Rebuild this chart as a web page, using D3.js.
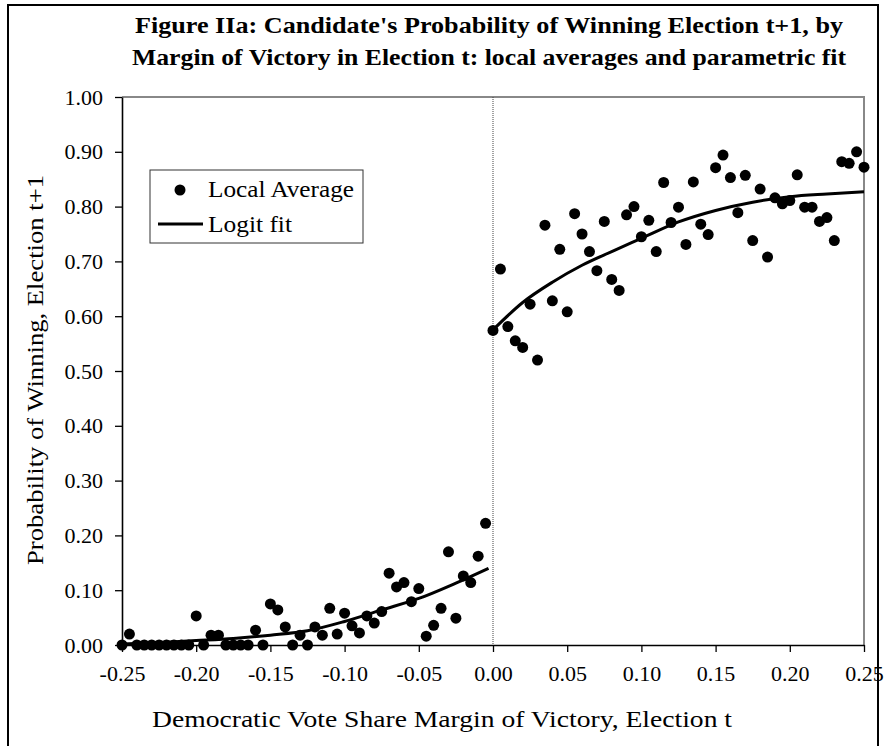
<!DOCTYPE html>
<html>
<head>
<meta charset="utf-8">
<script src="https://cdn.jsdelivr.net/npm/d3@7"></script>
<style>
  body { margin: 0; background: #fff; }
  text { font-family: "Liberation Serif", "Times New Roman", serif; fill: #000; }
</style>
</head>
<body>
<svg id="chart"></svg>
<script>
const width = 885;
const height = 746;
const margin = {top: 97, right: 21, bottom: 101, left: 122};

// local averages, left of the cutoff
const leftX = [-0.25, -0.245, -0.24, -0.235, -0.23, -0.225, -0.22, -0.215, -0.21, -0.205,
  -0.2, -0.195, -0.19, -0.185, -0.18, -0.175, -0.17, -0.165, -0.16, -0.155,
  -0.15, -0.145, -0.14, -0.135, -0.13, -0.125, -0.12, -0.115, -0.11, -0.105,
  -0.1, -0.095, -0.09, -0.085, -0.08, -0.075, -0.07, -0.065, -0.06, -0.055,
  -0.05, -0.045, -0.04, -0.035, -0.03, -0.025, -0.02, -0.015, -0.01, -0.005];
const leftY = [0, 0.02, 0, 0, 0, 0, 0, 0, 0, 0,
  0.053, 0, 0.018, 0.018, 0, 0, 0, 0, 0.027, 0,
  0.075, 0.064, 0.033, 0, 0.018, 0, 0.033, 0.018, 0.067, 0.02,
  0.058, 0.035, 0.022, 0.053, 0.04, 0.061, 0.131, 0.106, 0.114, 0.079,
  0.103, 0.016, 0.036, 0.067, 0.17, 0.049, 0.126, 0.114, 0.162, 0.222];

// local averages, right of the cutoff
const rightX = [0, 0.005, 0.01, 0.015, 0.02, 0.025, 0.03, 0.035, 0.04, 0.045,
  0.05, 0.055, 0.06, 0.065, 0.07, 0.075, 0.08, 0.085, 0.09, 0.095,
  0.1, 0.105, 0.11, 0.115, 0.12, 0.125, 0.13, 0.135, 0.14, 0.145,
  0.15, 0.155, 0.16, 0.165, 0.17, 0.175, 0.18, 0.185, 0.19, 0.195,
  0.2, 0.205, 0.21, 0.215, 0.22, 0.225, 0.23, 0.235, 0.24, 0.245, 0.25];
const rightY = [0.574, 0.686, 0.581, 0.555, 0.543, 0.622, 0.52, 0.766, 0.628, 0.722,
  0.608, 0.787, 0.75, 0.718, 0.683, 0.773, 0.667, 0.647, 0.785, 0.8,
  0.745, 0.775, 0.718, 0.844, 0.771, 0.799, 0.731, 0.845, 0.768, 0.749,
  0.871, 0.894, 0.853, 0.789, 0.857, 0.738, 0.832, 0.708, 0.816, 0.805,
  0.811, 0.858, 0.799, 0.799, 0.773, 0.78, 0.738, 0.882, 0.879, 0.9, 0.872];

// logit fit
const fitLeftX = [-0.25, -0.22, -0.2, -0.175, -0.15, -0.125, -0.1, -0.075, -0.05, -0.025, -0.003];
const fitLeftY = [0.002, 0.005, 0.008, 0.012, 0.018, 0.026, 0.043, 0.064, 0.085, 0.113, 0.14];
const fitRightX = [0, 0.02, 0.04, 0.06, 0.08, 0.1, 0.125, 0.15, 0.175, 0.2, 0.225, 0.25];
const fitRightY = [0.575, 0.625, 0.662, 0.693, 0.718, 0.742, 0.772, 0.793, 0.808, 0.818, 0.823, 0.827];

const xTicks = [-0.25, -0.2, -0.15, -0.1, -0.05, 0, 0.05, 0.1, 0.15, 0.2, 0.25];
const yTicks = [0, 0.1, 0.2, 0.3, 0.4, 0.5, 0.6, 0.7, 0.8, 0.9, 1];

const svg = d3.select("#chart").attr("width", width).attr("height", height);

const x = d3.scaleLinear().domain([-0.25, 0.25]).range([margin.left, width - margin.right]);
const y = d3.scaleLinear().domain([0, 1]).range([height - margin.bottom, margin.top]);

// outer frame
svg.append("rect")
  .attr("x", 8).attr("y", 5)
  .attr("width", 870).attr("height", 760)
  .attr("fill", "none")
  .attr("stroke", "#000")
  .attr("stroke-width", 2);

// title
const titleLines = [
  "Figure IIa: Candidate's Probability of Winning Election t+1, by",
  "Margin of Victory in Election t: local averages and parametric fit"
];
svg.selectAll(".title")
  .data(titleLines)
  .enter()
  .append("text")
  .attr("x", 489)
  .attr("y", (d, i) => 33 + i * 32)
  .attr("text-anchor", "middle")
  .attr("font-size", "24px")
  .attr("font-weight", "bold")
  .attr("textLength", (d, i) => (i === 0 ? 708 : 714))
  .attr("lengthAdjust", "spacingAndGlyphs")
  .text((d) => d);

// gray plot border (top and right)
svg.append("path")
  .attr("d", `M${x(-0.25)},${y(1)}H${x(0.25)}V${y(0)}`)
  .attr("fill", "none")
  .attr("stroke", "#888")
  .attr("stroke-width", 2);

// dotted line at the cutoff
svg.append("line")
  .attr("x1", x(0)).attr("x2", x(0))
  .attr("y1", y(1)).attr("y2", y(0))
  .attr("stroke", "#444")
  .attr("stroke-width", 1)
  .attr("stroke-dasharray", "1,1");

// axes
const xAxis = svg.append("g")
  .attr("transform", `translate(0,${y(0)})`)
  .call(d3.axisBottom(x).tickValues(xTicks).tickSize(7).tickSizeOuter(0).tickPadding(13)
    .tickFormat((d) => d.toFixed(2)));

const yAxis = svg.append("g")
  .attr("transform", `translate(${x(-0.25)},0)`)
  .call(d3.axisLeft(y).tickValues(yTicks).tickSize(7).tickSizeOuter(0).tickPadding(12)
    .tickFormat((d) => d.toFixed(2)));

[xAxis, yAxis].forEach((g) => {
  g.select(".domain").attr("stroke", "#000").attr("stroke-width", 1.6);
  g.selectAll(".tick line").attr("stroke", "#000").attr("stroke-width", 1.3);
  g.selectAll(".tick text")
    .attr("font-family", "Liberation Serif, serif")
    .attr("font-size", "22px")
    .attr("fill", "#000");
});

// axis titles
svg.append("text")
  .attr("x", 442)
  .attr("y", 727)
  .attr("text-anchor", "middle")
  .attr("font-size", "23px")
  .attr("textLength", 580)
  .attr("lengthAdjust", "spacingAndGlyphs")
  .text("Democratic Vote Share Margin of Victory, Election t");

svg.append("text")
  .attr("transform", "translate(43,370) rotate(-90)")
  .attr("text-anchor", "middle")
  .attr("font-size", "23px")
  .attr("textLength", 390)
  .attr("lengthAdjust", "spacingAndGlyphs")
  .text("Probability of Winning, Election t+1");

// fitted curves
const line = d3.line()
  .x((d) => x(d[0]))
  .y((d) => y(d[1]))
  .curve(d3.curveMonotoneX);

[[fitLeftX, fitLeftY], [fitRightX, fitRightY]].forEach(([xs, ys]) => {
  svg.append("path")
    .datum(xs.map((v, i) => [v, ys[i]]))
    .attr("d", line)
    .attr("fill", "none")
    .attr("stroke", "#000")
    .attr("stroke-width", 3);
});

// local averages
const points = leftX.map((v, i) => [v, leftY[i]])
  .concat(rightX.map((v, i) => [v, rightY[i]]));

svg.selectAll(".avg")
  .data(points)
  .enter()
  .append("circle")
  .attr("class", "avg")
  .attr("cx", (d) => x(d[0]))
  .attr("cy", (d) => y(d[1]))
  .attr("r", 5.5)
  .attr("fill", "#000");

// legend
const legend = svg.append("g");
legend.append("rect")
  .attr("x", 150).attr("y", 170)
  .attr("width", 213).attr("height", 73)
  .attr("fill", "#fff")
  .attr("stroke", "#333")
  .attr("stroke-width", 1);
legend.append("circle")
  .attr("cx", 180).attr("cy", 190).attr("r", 5.5)
  .attr("fill", "#000");
legend.append("line")
  .attr("x1", 158).attr("x2", 203)
  .attr("y1", 224).attr("y2", 224)
  .attr("stroke", "#000")
  .attr("stroke-width", 3);
legend.append("text")
  .attr("x", 208).attr("y", 197)
  .attr("font-size", "23px")
  .attr("textLength", 146)
  .attr("lengthAdjust", "spacingAndGlyphs")
  .text("Local Average");
legend.append("text")
  .attr("x", 208).attr("y", 232)
  .attr("font-size", "23px")
  .attr("textLength", 84)
  .attr("lengthAdjust", "spacingAndGlyphs")
  .text("Logit fit");
</script>
</body>
</html>
